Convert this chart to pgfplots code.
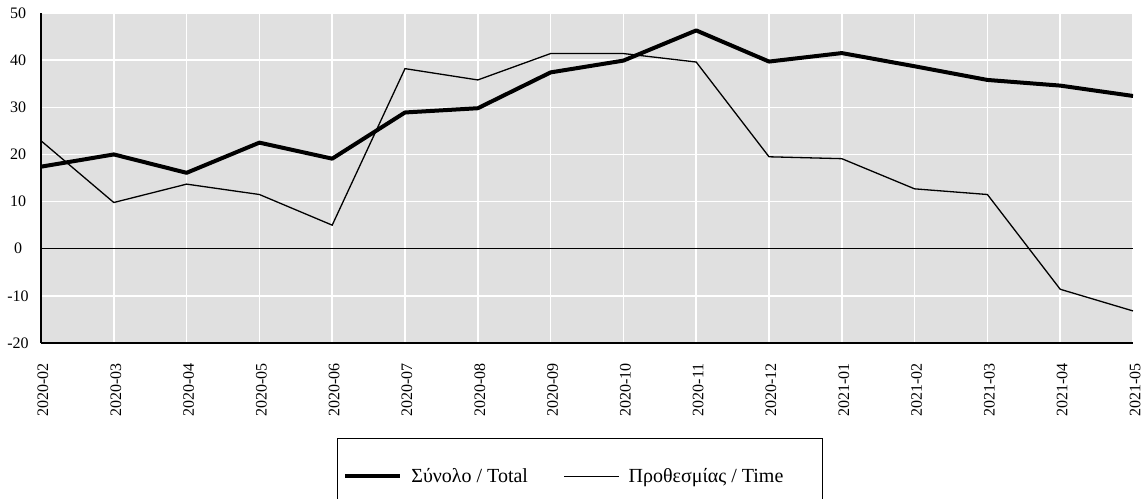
\documentclass[border=0pt]{standalone}
\usepackage{fontspec}
\setmainfont{Liberation Serif}
\usepackage{graphicx}
\usepackage{pgfplots}
\pgfplotsset{compat=1.18}
\definecolor{bggray}{RGB}{224,224,224}
\newcommand{\rl}[1]{\rotatebox{90}{#1}}
\begin{document}
\begin{tikzpicture}
\path[use as bounding box] (-41bp,-156bp) rectangle (1105bp,343bp);
\begin{axis}[
  scale only axis, width=1092bp, height=330bp,
  xmin=0, xmax=15, ymin=-20, ymax=50,
  xtick={0,...,15},
  xticklabels={\rl{2020-02},\rl{2020-03},\rl{2020-04},\rl{2020-05},\rl{2020-06},\rl{2020-07},\rl{2020-08},\rl{2020-09},\rl{2020-10},\rl{2020-11},\rl{2020-12},\rl{2021-01},\rl{2021-02},\rl{2021-03},\rl{2021-04},\rl{2021-05}},
  ytick={-20,-10,...,50},
  /pgf/number format/assume math mode=true,
  axis background/.style={fill=bggray},
  grid=major,
  major grid style={white, line width=1.5bp},
  axis x line*=bottom, axis y line*=left,
  axis line style={black, line width=1.2bp},
  major tick length=0pt,
  xticklabel style={anchor=north, yshift=-17bp, xshift=2bp, font=\fontsize{16bp}{18bp}\selectfont},
  yticklabel style={anchor=center, xshift=-23bp, font=\fontsize{16bp}{18bp}\selectfont},
  legend columns=2,
  legend style={at={(axis description cs:0.4936,-0.2879)}, anchor=north,
    draw=black, line width=0.8bp, inner xsep=6bp, inner ysep=28bp,
    font=\fontsize{20bp}{22bp}\selectfont, legend cell align=left},
  legend image code/.code={\draw[#1] (0bp,0bp) -- (55bp,0bp); \path (62bp,0bp);},
]
\addplot[black, line width=1bp, forget plot] coordinates {(0,0) (15,0)};
\addplot[black, line width=4bp, line join=round] coordinates {
(0,17.4) (1,20.0) (2,16.1) (3,22.5) (4,19.1) (5,28.9) (6,29.8) (7,37.4)
(8,39.9) (9,46.3) (10,39.7) (11,41.5) (12,38.7) (13,35.8) (14,34.6) (15,32.4)};
\addlegendentry{\makebox[150bp][l]{Σύνολο / Total}}
\addplot[black, line width=1.3bp] coordinates {
(0,22.9) (1,9.8) (2,13.7) (3,11.5) (4,5.0) (5,38.2) (6,35.8) (7,41.4)
(8,41.4) (9,39.6) (10,19.5) (11,19.1) (12,12.7) (13,11.5) (14,-8.6) (15,-13.2)};
\addlegendentry{\makebox[186bp][l]{Προθεσμίας / Time}}
\end{axis}
\end{tikzpicture}
\end{document}
